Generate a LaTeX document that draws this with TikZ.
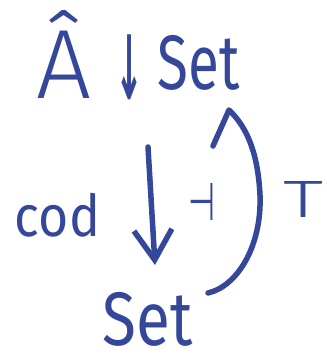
\documentclass[tikz,border=0pt]{standalone}
\usepackage{fontspec}
\setmainfont{Fira Sans}
\newfontfamily\thinfont{Fira Sans Light}
\newfontfamily\symfont{DejaVu Sans}[BoldFont={DejaVu Sans Bold}]
\usepackage{graphicx}
\usetikzlibrary{arrows.meta}
\definecolor{ink}{RGB}{53,71,153}
% set a piece of text into a box of the given width and total height
\newcommand\fitto[3]{\resizebox*{#1}{#2}{#3}}
\begin{document}
\begin{tikzpicture}[x=1pt,y=-1pt,
  lbl/.style={inner sep=0pt, outer sep=0pt, text=ink},
  stroke/.style={draw=ink, line width=5.5pt, line cap=round, line join=round}]
\useasboundingbox (0,0) rectangle (327,357);

% comma category in the top row
\node[lbl] (hatA)  at (64.5,54)   {\fitto{55pt}{88pt}{\thinfont Â}};
\node[lbl] (comma) at (129,67.5)  {\fitto{28pt}{65pt}{\symfont\bfseries ↓}};
\node[lbl] (setA)  at (199,62.5)  {\fitto{82pt}{55pt}{Set}};

% labels of the adjunction
\node[lbl] (cod)   at (57.5,215)  {\fitto{85pt}{44pt}{cod}};
\node[lbl] (adj)   at (201.5,202) {\fitto{27pt}{37pt}{\symfont ⊣}};
\node[lbl] (T)     at (304,199)   {\fitto{40pt}{36pt}{\thinfont T}};

% target category
\node[lbl] (setB)  at (148,319)   {\fitto{90pt}{54pt}{Set}};

% ends of the two functor arrows
\coordinate (codTop) at (148,147);
\coordinate (codEnd) at (155,265);
\coordinate (tBot)   at (208,293);
\coordinate (tTop)   at (229,110);
\coordinate (tBarb)  at (213,146);

% cod : down arrow
\draw[stroke, -{Straight Barb[length=30pt,width=38pt]}] (codTop) -- (codEnd);

% T : curved arrow back up, with a single hand-drawn barb
\draw[stroke] (tBot) .. controls (238,286) and (262,245) .. (260,195)
  .. controls (258,155) and (248,128) .. (tTop) -- (tBarb);
\end{tikzpicture}
\end{document}
